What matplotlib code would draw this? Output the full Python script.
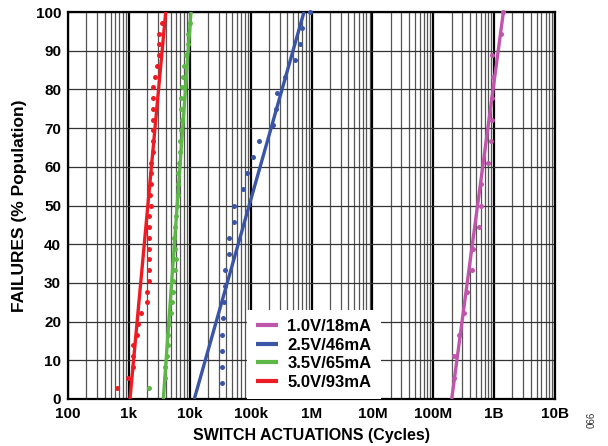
import numpy as np
import matplotlib
matplotlib.use("Agg")
import matplotlib.pyplot as plt
from matplotlib.ticker import FixedLocator, NullFormatter

plt.rcParams['font.family'] = ['Liberation Sans', 'DejaVu Sans']
plt.rcParams['font.weight'] = 'bold'

# series labels and colours
labels = ["1.0V/18mA", "2.5V/46mA", "3.5V/65mA", "5.0V/93mA"]
colors = ["#C055AC", "#3A55A5", "#5DB848", "#ED1C24"]

red_x = [645, 979, 1156, 1182, 1156, 1375, 1396, 1564, 1963, 1963, 2141, 2141,
         2141, 2166, 2166, 2166, 2166, 2284, 2223, 2310, 2310, 2284, 2519, 2519,
         2519, 2519, 2519, 2463, 2519, 2687, 2931, 3160, 3125, 3160, 3462]
red_y = [100.0 * i / 36 for i in range(1, 36)]

green_x = [2166, 3922, 3922, 4278, 4443, 4443, 4614, 4920, 5051, 5246, 5246, 5724,
           5944, 5724, 5512, 5724, 5944, 6245, 6485, 6485, 6485, 6735, 6915, 6915,
           7182, 7375, 7182, 7182, 7375, 7834, 8044, 8582, 9255, 9255, 10095]
green_y = [100.0 * i / 36 for i in range(1, 36)]

blue_x = [34250, 34250, 34250, 34250, 34770, 36520, 38370, 38370, 43630, 43630,
          53310, 53310, 75820, 88190, 110700, 138800, 235800, 261100, 268100,
          371200, 535800, 647400, 690200, 944800]
blue_y = [100.0 * i / 24 for i in range(1, 25)]

mag_x = [2.217e8, 2.217e8, 2.649e8, 3.237e8, 3.544e8, 4.280e8, 4.548e8, 5.643e8,
         6.018e8, 6.086e8, 8.023e8, 8.787e8, 9.333e8, 9.333e8, 9.476e8, 9.333e8,
         1.297e9, 1.383e9]
mag_y = [100.0 * i / 18 for i in range(1, 19)]

# fitted lines: x at 0% and at 100%
fit_y = [0, 100]
mag_fit = [2.01e8, 1.42e9]
blue_fit = [11880, 753000]
green_fit = [3681, 10480]
red_fit = [1043, 4027]

xticks = [1e2, 1e3, 1e4, 1e5, 1e6, 1e7, 1e8, 1e9, 1e10]
xticklabels = ["100", "1k", "10k", "100k", "1M", "10M", "100M", "1B", "10B"]
yticks = list(range(0, 101, 10))

fig = plt.figure(figsize=(6.08, 4.46), dpi=100)
ax = fig.add_axes([68 / 608, 47 / 446, 487 / 608, 387 / 446])
ax.set_xscale("log")
ax.set_xlim(1e2, 1e10)
ax.set_ylim(0, 100)

# grid
minors = [m * 10.0 ** d for d in range(2, 10) for m in range(2, 10)]
for v in minors:
    ax.axvline(v, color="#555555", lw=0.9, zorder=1)
for v in xticks:
    ax.axvline(v, color="black", lw=1.6, zorder=1)
for v in yticks:
    ax.axhline(v, color="#333333", lw=0.9, zorder=1)

series = [(mag_x, mag_y, mag_fit), (blue_x, blue_y, blue_fit),
          (green_x, green_y, green_fit), (red_x, red_y, red_fit)]
for (sx, sy, fit), c, lab in zip(series, colors, labels):
    ax.plot(fit, fit_y, color=c, lw=2.4, label=lab, zorder=3, solid_capstyle="butt")
    ax.plot(sx, sy, "o", color=c, ms=3.6, mec="none", zorder=3, clip_on=False)

ax.xaxis.set_major_locator(FixedLocator(xticks))
ax.xaxis.set_minor_locator(FixedLocator(minors))
ax.xaxis.set_minor_formatter(NullFormatter())
ax.set_xticklabels(xticklabels)
ax.set_yticks(yticks)
ax.tick_params(which="both", length=0, labelsize=11)
ax.tick_params(axis="x", pad=6)
ax.tick_params(axis="y", pad=5)
for s in ax.spines.values():
    s.set_linewidth(1.6)

ax.set_xlabel("SWITCH ACTUATIONS (Cycles)", fontsize=11.5, fontweight="bold", labelpad=5)
ax.set_ylabel("FAILURES (% Population)", fontsize=12.5, fontweight="bold", labelpad=6)

leg = ax.legend(loc="lower left", bbox_to_anchor=(0.368, 0.0), borderaxespad=0.0,
                frameon=True, fancybox=False, edgecolor="none", framealpha=1.0,
                fontsize=12, handlelength=1.3, handletextpad=0.55, labelspacing=0.22,
                borderpad=0.55)
leg.set_zorder(5)
for t in leg.get_texts():
    t.set_fontweight("bold")
for ln in leg.get_lines():
    ln.set_linewidth(3)

fig.text(592 / 608, 1 - 420 / 446, "066", rotation=90, fontsize=7, fontweight="normal",
         color="#333333", ha="center", va="center")

fig.savefig("out.png", dpi=100)
